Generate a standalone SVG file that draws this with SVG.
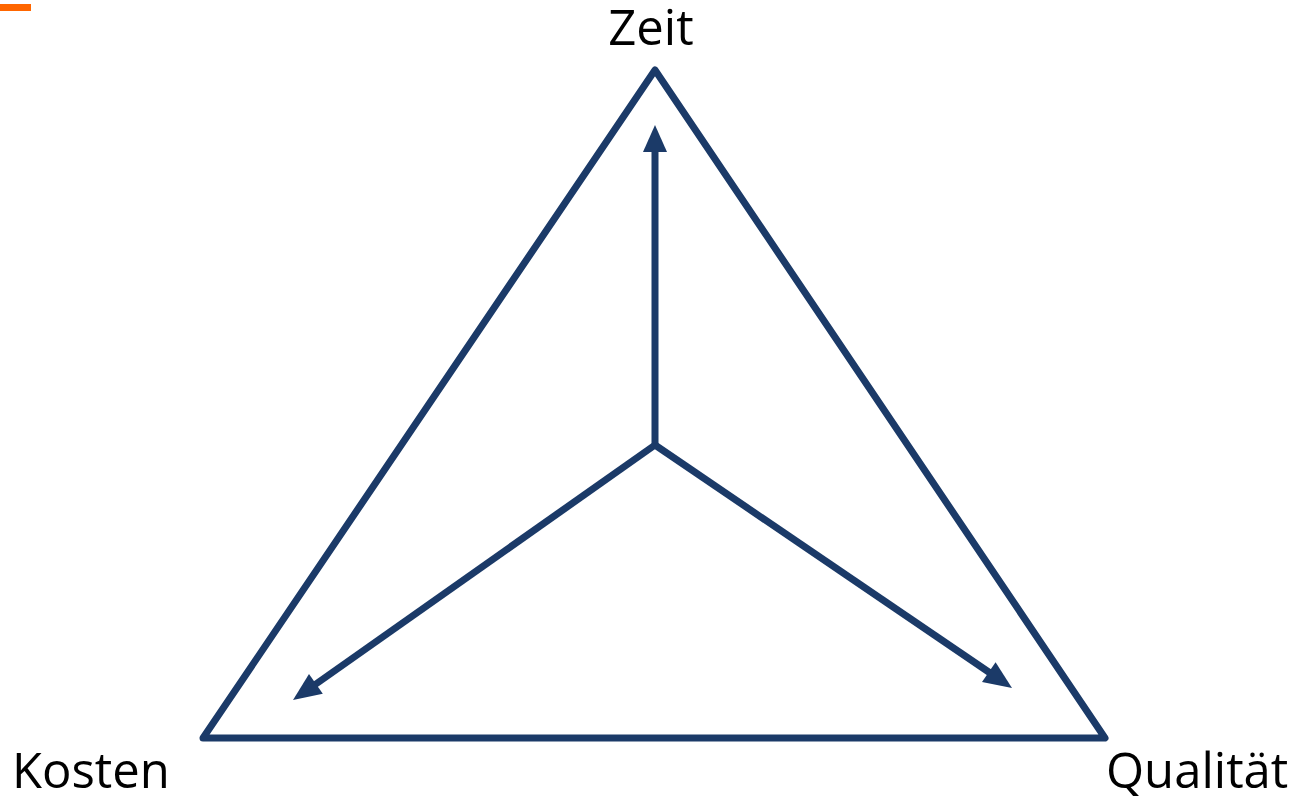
<svg xmlns="http://www.w3.org/2000/svg" width="1299" height="797" viewBox="0 0 1299 797">
<style>
.lbl{font-family:"Open Sans","DejaVu Sans",sans-serif;font-size:49px;fill:#000}
.edge{stroke:#1b3a68;stroke-width:7;fill:none;stroke-linejoin:round;stroke-linecap:round}
.arr{stroke:#1b3a68;stroke-width:7;fill:none}
.head{fill:#1b3a68}
</style>
<rect x="0" y="4" width="31" height="7" fill="#ff6600"/>
<g id="triangle">
<path class="edge" d="M655,70 L1105,738 L203,738 Z"/>
</g>
<g id="connectors">
<path class="arr" d="M655,445 L655,142"/>
<polygon class="head" points="655,125 667,152 643,152"/>
<path class="arr" d="M655,445 L306,691"/>
<polygon class="head" points="293,700 322.8,693.7 309,674.1"/>
<path class="arr" d="M655,445 L999,679"/>
<polygon class="head" points="1012,688 982,682.1 995.6,662.3"/>
</g>
<g id="zeit"><text class="lbl" x="651" y="45" text-anchor="middle">Zeit</text></g>
<g id="kosten"><text class="lbl" x="12" y="788">Kosten</text></g>
<g id="qualitaet"><text class="lbl" x="1106" y="788">Qualität</text></g>
</svg>
